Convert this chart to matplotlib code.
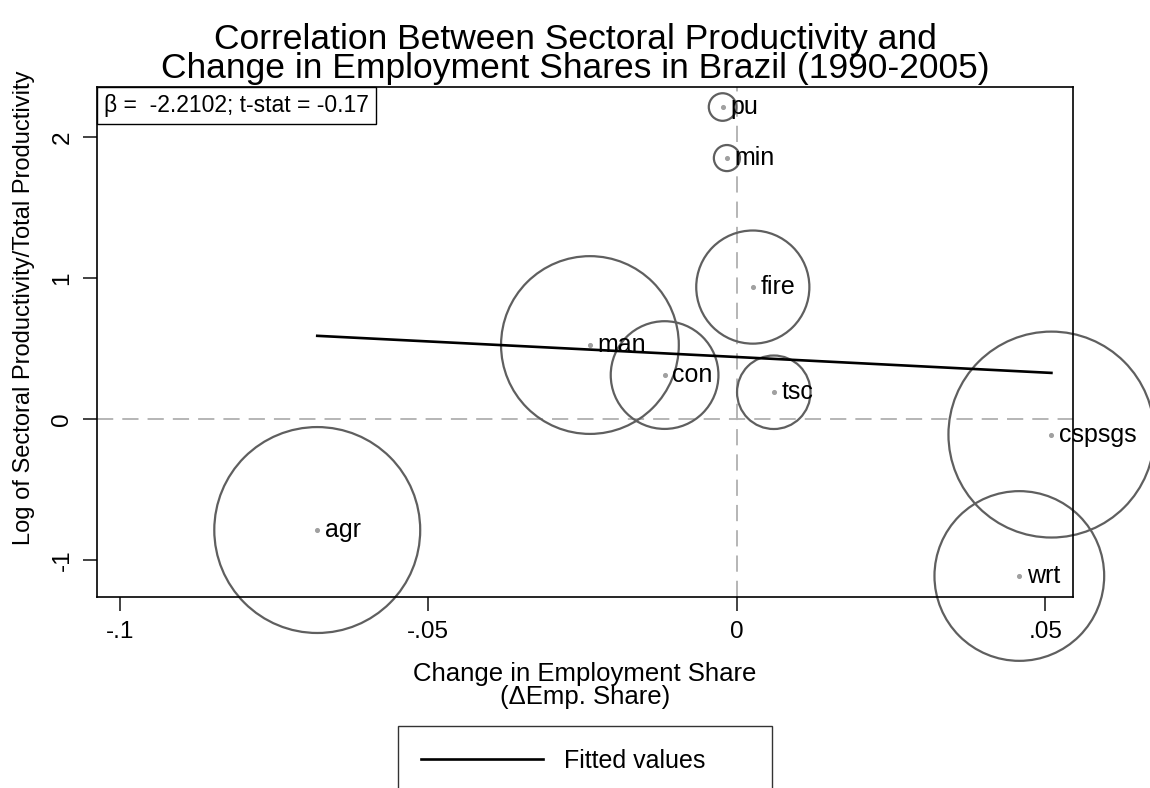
import matplotlib
matplotlib.use("Agg")
import matplotlib.pyplot as plt
import numpy as np
from matplotlib.lines import Line2D

plt.rcParams['font.family'] = ['Liberation Sans', 'DejaVu Sans']

# sector data
sectors = ['pu', 'min', 'fire', 'man', 'con', 'tsc', 'cspsgs', 'agr', 'wrt']
d_emp = [-0.0023, -0.0016, 0.0026, -0.0238, -0.0117, 0.0060, 0.0510, -0.0680, 0.0458]
log_prod = [2.213, 1.851, 0.936, 0.525, 0.312, 0.190, -0.110, -0.787, -1.113]
# relative weight (employment share) -> bubble area
weights = [1.9, 1.7, 32.0, 79.0, 29.0, 13.5, 106.0, 106.0, 72.0]

# fitted line endpoints
fit_x = [-0.0680, 0.0510]
fit_y = [0.5903, 0.3273]

fig = plt.figure(figsize=(11.5, 7.88), dpi=100)
ax = fig.add_axes([97/1150, 1-597/788, (1073-97)/1150, (597-87)/788])

ax.set_xlim(-0.1037, 0.0545)
ax.set_ylim(-1.262, 2.355)

ax.axvline(0, color='#b0b0b0', lw=1.3, dashes=(9, 5), zorder=1)
ax.axhline(0, color='#b0b0b0', lw=1.3, dashes=(9, 5), zorder=1)

# bubble sizes in points^2
r_px = 10.0 * np.sqrt(weights)
s = (2 * r_px * 0.72) ** 2
ax.scatter(d_emp, log_prod, s=s, facecolors='none', edgecolors='#5f5f5f', linewidths=1.6,
           zorder=2, clip_on=False)
ax.scatter(d_emp, log_prod, s=7, color='#a0a0a0', zorder=3, clip_on=False)

for xi, yi, lab in zip(d_emp, log_prod, sectors):
    ax.annotate(lab, (xi, yi), xytext=(5.5, 0), textcoords='offset points',
                ha='left', va='center', fontsize=18, zorder=4, annotation_clip=False)

ax.plot(fit_x, fit_y, color='black', lw=1.9, zorder=3)

ax.set_xticks([-0.1, -0.05, 0, 0.05])
ax.set_xticklabels(['-.1', '-.05', '0', '.05'])
ax.set_yticks([-1, 0, 1, 2])
ax.set_yticklabels(['-1', '0', '1', '2'], rotation=90, va='center')
ax.tick_params(axis='both', labelsize=17.5, length=10, width=1.2, color='#222222', pad=7)
for sp in ax.spines.values():
    sp.set_linewidth(1.2)

ax.set_xlabel('Change in Employment Share\n(\u0394Emp. Share)', fontsize=18.5, labelpad=14, linespacing=0.95)
ax.set_ylabel('Log of Sectoral Productivity/Total Productivity', fontsize=17)
ax.yaxis.set_label_coords(-0.064, 0.567)

fig.text(0.5, 1-54/788, 'Correlation Between Sectoral Productivity and\nChange in Employment Shares in Brazil (1990-2005)',
         ha='center', va='center', fontsize=25.5, linespacing=0.88)

ax.annotate('\u03b2 =  -2.2102; t-stat = -0.17', xy=(0, 1), xycoords='axes fraction',
            xytext=(5.0, -5.0), textcoords='offset points', ha='left', va='top', fontsize=16.5,
            bbox=dict(boxstyle='square,pad=0.32', facecolor='white', edgecolor='black', linewidth=1.0))

handle = Line2D([], [], color='black', lw=1.9)
fig.legend([handle], ['Fitted values'], loc='upper left',
           bbox_to_anchor=(398/1150, 1-726/788, 374/1150, 0.0), mode='expand',
           frameon=True, fancybox=False, edgecolor='black', fontsize=18,
           handlelength=4.9, borderpad=0.9, handletextpad=0.85, borderaxespad=0)

fig.savefig('out.png', dpi=100)
